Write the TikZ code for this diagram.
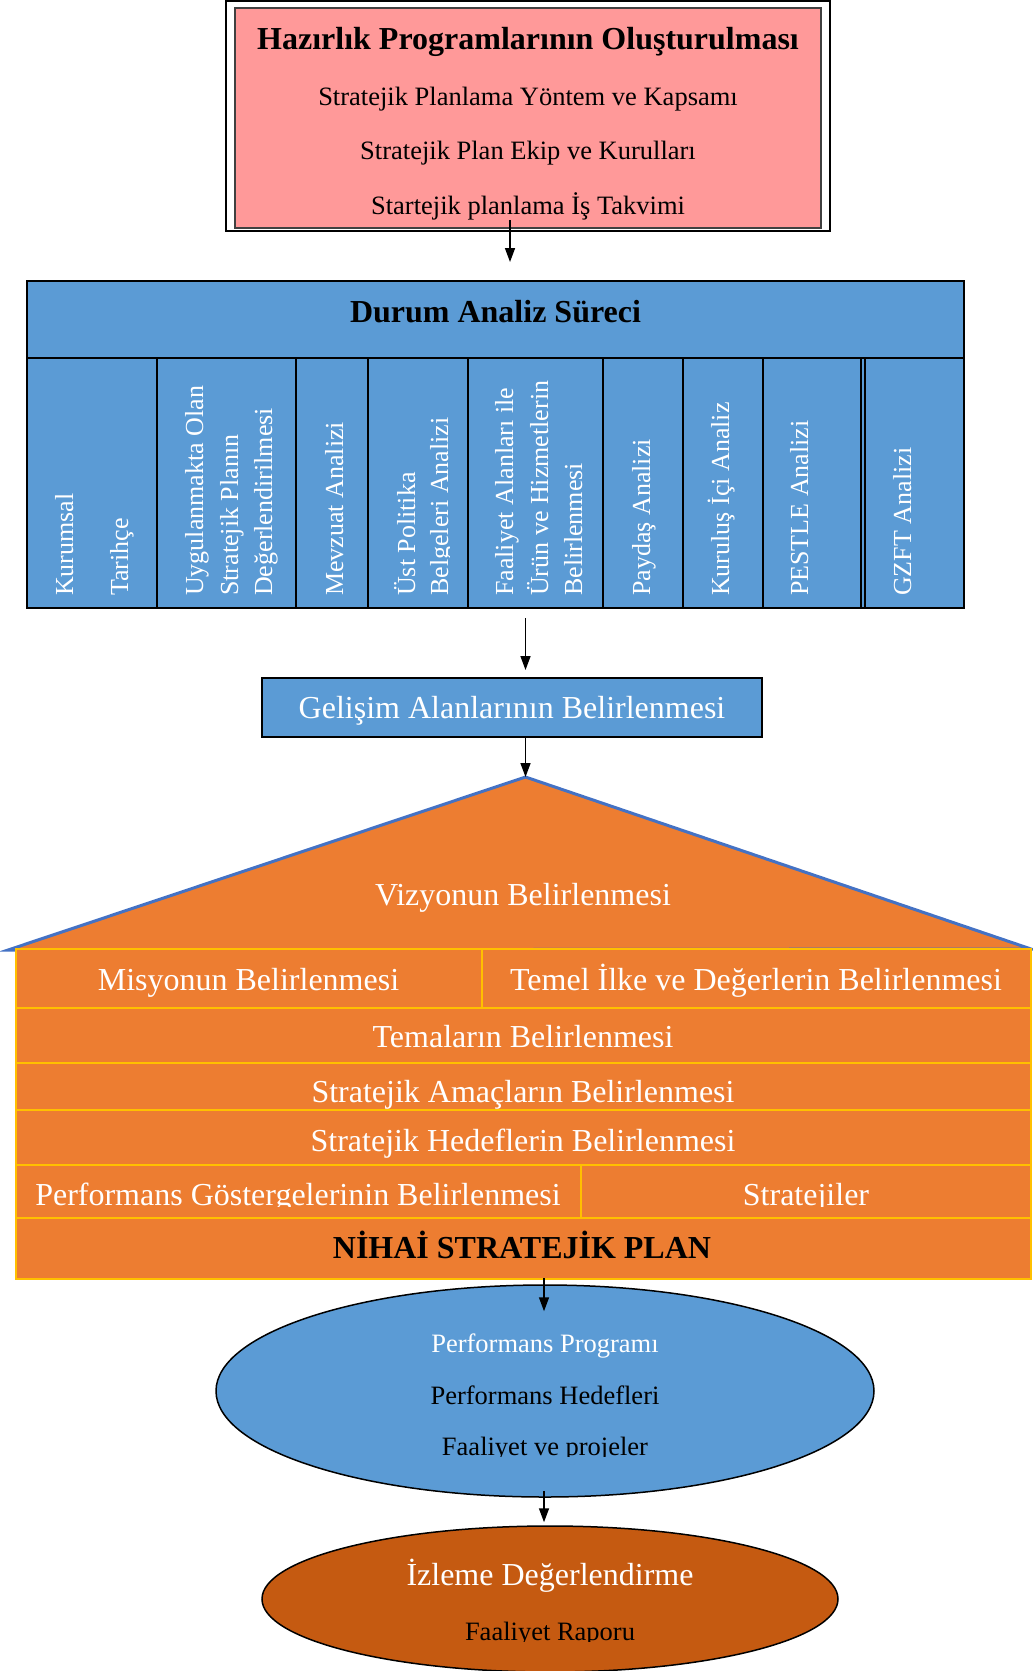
\documentclass[tikz,border=0pt]{standalone}
\usepackage{fontspec}
\setmainfont{Liberation Serif}
\usetikzlibrary{shapes.geometric,arrows.meta,calc}

\definecolor{pinkfill}{HTML}{FF9999}
\definecolor{pinkedge}{HTML}{404040}
\definecolor{bluefill}{HTML}{5B9BD5}
\definecolor{orangefill}{HTML}{ED7D31}
\definecolor{goldedge}{HTML}{FFC000}
\definecolor{roofedge}{HTML}{4472C4}
\definecolor{rustfill}{HTML}{C55A11}

\newcommand\fbig{\fontsize{32}{38}\selectfont}
\newcommand\fmid{\fontsize{26.5}{32}\selectfont}
\newcommand\fcol{\fontsize{26}{31}\selectfont}

\begin{document}
\begin{tikzpicture}[x=1pt,y=-1pt,
  box/.style={anchor=north west, inner sep=0pt, outer sep=0pt},
  bluebox/.style={box, fill=bluefill, draw=black, line width=2pt},
  rowbox/.style={box, fill=orangefill, draw=goldedge, line width=2pt},
  lbl/.style={anchor=base, inner sep=0pt, font=\fbig},
  collbl/.style={anchor=base west, rotate=90, inner sep=0pt, font=\fcol, text=white},
  arr/.style={-{Triangle[length=14pt,width=10pt]}, line width=1.5pt},
]
\useasboundingbox (0,0) rectangle (1033,1671);

% --- preparation programmes ---
\node[box, draw=black, line width=2.5pt, fill=white, minimum width=604pt, minimum height=230pt] (hzo) at (226,1) {};
\node[box, draw=pinkedge, line width=1.5pt, fill=pinkfill, minimum width=586pt, minimum height=220pt] (hz) at (235,8) {};
\node[lbl, font=\fbig\bfseries] (hzt) at (528,49) {Hazırlık Programlarının Oluşturulması};
\node[lbl, font=\fmid] (hz1) at (528,105) {Stratejik Planlama Yöntem ve Kapsamı};
\node[lbl, font=\fmid] (hz2) at (528,159) {Stratejik Plan Ekip ve Kurulları};
\node[lbl, font=\fmid] (hz3) at (528,214) {Startejik planlama İş Takvimi};

% --- situation analysis ---
\node[bluebox, minimum width=937pt, minimum height=327pt] (da) at (27,281) {};
\node[bluebox, minimum width=937pt, minimum height=77pt] (dh) at (27,281) {};
\node[lbl, font=\fbig\bfseries] (dht) at (495.5,322) {Durum Analiz Süreci};

\node[bluebox, minimum width=130pt, minimum height=250pt] (c1) at (27,358) {};
\node[bluebox, minimum width=139pt, minimum height=250pt] (c2) at (157,358) {};
\node[bluebox, minimum width=72pt, minimum height=250pt] (c3) at (296,358) {};
\node[bluebox, minimum width=100pt, minimum height=250pt] (c4) at (368,358) {};
\node[bluebox, minimum width=135pt, minimum height=250pt] (c5) at (468,358) {};
\node[bluebox, minimum width=79.5pt, minimum height=250pt] (c6) at (603,358) {};
\node[bluebox, minimum width=80pt, minimum height=250pt] (c7) at (682.5,358) {};
\node[bluebox, minimum width=98.5pt, minimum height=250pt] (c8) at (762.5,358) {};
\node[bluebox, minimum width=99.5pt, minimum height=250pt] (c9) at (864.5,358) {};

\node[collbl] (c1a) at (73,596) {Kurumsal};
\node[collbl] (c1b) at (128,596) {Tarihçe};
\node[collbl] (c2a) at (203,596) {Uygulanmakta Olan};
\node[collbl] (c2b) at (238,596) {Stratejik Planın};
\node[collbl] (c2c) at (272,596) {Değerlendirilmesi};
\node[collbl] (c3a) at (343,596) {Mevzuat Analizi};
\node[collbl] (c4a) at (415,596) {Üst Politika};
\begin{scope}
  \clip (420,360) rectangle (449.5,600);
  \node[collbl] (c4b) at (448,596) {Belgeleri Analizi};
\end{scope}
\node[collbl] (c5a) at (513,596) {Faaliyet Alanları ile};
\node[collbl] (c5b) at (548,596) {Ürün ve Hizmetlerin};
\node[collbl] (c5c) at (582,596) {Belirlenmesi};
\node[collbl] (c6a) at (650,596) {Paydaş Analizi};
\node[collbl] (c7a) at (729,596) {Kuruluş İçi Analiz};
\node[collbl] (c8a) at (808,596) {PESTLE Analizi};
\node[collbl] (c9a) at (911,596) {GZFT Analizi};

% --- development areas ---
\node[bluebox, minimum width=500pt, minimum height=59pt] (ga) at (262,678) {};
\node[lbl, text=white] (gat) at (512,718) {Gelişim Alanlarının Belirlenmesi};

% --- roof: vision ---
\coordinate (tl) at (8,950);
\coordinate (ap) at (525.5,777);
\coordinate (tr) at (1031,949);
\filldraw[fill=orangefill, draw=roofedge, line width=3pt] (tl) -- (ap) -- (tr) -- cycle;
\node[lbl, text=white] (vz) at (523,905) {Vizyonun Belirlenmesi};

% --- plan body ---
\node[rowbox, minimum width=466pt, minimum height=59pt] (r1a) at (15.5,949) {};
\node[rowbox, minimum width=549.5pt, minimum height=59pt] (r1b) at (481.5,949) {};
\node[rowbox, minimum width=1015.5pt, minimum height=55pt] (r2) at (15.5,1008) {};
\node[rowbox, minimum width=1015.5pt, minimum height=47pt] (r3) at (15.5,1063) {};
\node[rowbox, minimum width=1015.5pt, minimum height=54.5pt] (r4) at (15.5,1110) {};
\node[rowbox, minimum width=565pt, minimum height=53pt] (r5a) at (15.5,1164.5) {};
\node[rowbox, minimum width=450.5pt, minimum height=53pt] (r5b) at (580.5,1164.5) {};
\node[rowbox, minimum width=1015.5pt, minimum height=61.5pt] (r6) at (15.5,1217.5) {};

\node[lbl, text=white] (r1at) at (248.5,990) {Misyonun Belirlenmesi};
\node[lbl, text=white] (r1bt) at (756,990) {Temel İlke ve Değerlerin Belirlenmesi};
\node[lbl, text=white] (r2t) at (523,1047) {Temaların Belirlenmesi};
\node[lbl, text=white] (r3t) at (523,1102) {Stratejik Amaçların Belirlenmesi};
\node[lbl, text=white] (r4t) at (523,1151) {Stratejik Hedeflerin Belirlenmesi};
\begin{scope}
  \clip (15,1160) rectangle (1031,1206.5);
  \node[lbl, text=white] (r5at) at (298,1205) {Performans Göstergelerinin Belirlenmesi};
  \node[lbl, text=white] (r5bt) at (806,1205) {Stratejiler};
\end{scope}
\node[lbl, font=\fbig\bfseries] (r6t) at (522,1258) {NİHAİ STRATEJİK PLAN};

% --- performance programme ---
\node[ellipse, draw=black, line width=1.5pt, fill=bluefill, inner sep=0pt,
      minimum width=658pt, minimum height=212pt] (pp) at (545,1391) {};
\node[lbl, font=\fmid, text=white] (ppt1) at (545,1352) {Performans Programı};
\node[lbl, font=\fmid] (ppt2) at (545,1404) {Performans Hedefleri};
\begin{scope}
  \clip (400,1420) rectangle (700,1456.5);
  \node[lbl, font=\fmid] (ppt3) at (545,1455) {Faaliyet ve projeler};
\end{scope}

% --- monitoring ---
\node[ellipse, draw=black, line width=1.5pt, fill=rustfill, inner sep=0pt,
      minimum width=576pt, minimum height=146pt] (iz) at (550,1599) {};
\node[lbl, text=white] (izt1) at (550,1585) {İzleme Değerlendirme};
\begin{scope}
  \clip (440,1605) rectangle (660,1641);
  \node[lbl, font=\fmid] (izt2) at (550,1640) {Faaliyet Raporu};
\end{scope}

% --- flow arrows ---
\draw[arr] ($(hz.south)+(-18,-8)$) -- ($(hz.south |- da.north)+(-18,-19)$);
\draw[arr] ($(da.south)+(30,10)$) -- ($(ga.north)+(13.5,-8)$);
\draw[arr] ($(ga.south)+(13.5,0)$) -- (ap);
\draw[arr] ($(r6.south)+(20.75,-1)$) -- ($(pp.north)+(-1,27)$);
\draw[arr] ($(pp.south)+(-1,-7)$) -- ($(iz.north)+(-6,-3)$);
\end{tikzpicture}
\end{document}
